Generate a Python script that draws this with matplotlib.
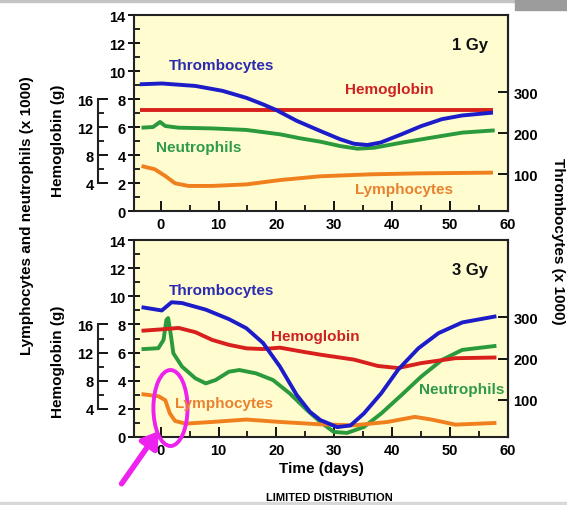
import matplotlib.pyplot as plt
from matplotlib.patches import Ellipse, Rectangle, FancyArrowPatch

plt.rcParams['font.family'] = ['Liberation Sans', 'DejaVu Sans']
plt.rcParams['font.weight'] = 'bold'

# colours
BLUE = '#1c1cc8'
RED = '#d8201c'
GREEN = '#2b9a3c'
ORANGE = '#f0801e'
BG = '#fffcd0'

# ---- 1 Gy panel ----
thr1_days = [-3.6, 0.2, 6, 10.7, 14.8, 17.7, 20, 23.5, 27.6, 31, 33.4, 35.7, 38, 41.6, 45, 48.6, 52.1, 57.4]
thr1 = [319, 321, 315, 303, 286, 270, 256, 230, 205, 185, 174, 171, 177, 197, 217, 234, 243, 250]

hb1_days = [-3.6, 27, 57.4]
hb1 = [14.5, 14.5, 14.5]

neu1_days = [-3.3, -1.3, -0.1, 0.8, 3.1, 8.9, 14.8, 20.6, 24, 27.6, 31, 34, 36.9, 41.6, 46.8, 52.1, 57.7]
neu1 = [5.95, 6.0, 6.36, 6.07, 5.95, 5.9, 5.79, 5.48, 5.2, 4.95, 4.64, 4.45, 4.52, 4.88, 5.24, 5.6, 5.76]

lym1_days = [-3.3, -1, 0.8, 2.5, 4.8, 8.9, 14.8, 20.6, 27.6, 36.3, 45, 57.4]
lym1 = [3.21, 2.98, 2.5, 1.98, 1.79, 1.79, 1.9, 2.21, 2.48, 2.62, 2.69, 2.74]

# ---- 3 Gy panel ----
thr3_days = [-3.3, 0.2, 1.9, 3.7, 7.8, 11.8, 14.8, 17.7, 20.6, 23.5, 25.8, 27.6, 30.5, 32.8, 35.1,
             38.1, 41, 44.5, 48, 52.1, 58]
thr3 = [325, 317, 337, 335, 319, 296, 274, 238, 181, 112, 71, 51, 34, 38, 67,
        116, 173, 225, 262, 288, 303]

hb3_days = [-3.3, 0.2, 3.1, 6, 8.9, 11.8, 14.8, 17.7, 20.6, 24.7, 27.6, 33.4, 37.5, 41, 45, 50.9, 58]
hb3 = [15.1, 15.3, 15.5, 14.9, 13.8, 13.1, 12.6, 12.5, 12.7, 12.1, 11.7, 11.0, 10.1, 9.8, 10.5, 11.2, 11.3]

neu3_days = [-3.3, -0.4, 0.5, 1.0, 1.3, 1.8, 2.2, 3.7, 6, 7.8, 9.5, 11.8, 13.6, 16.5, 19.4, 22.3, 25.3,
             27.6, 29.9, 32.2, 35.1, 38.1, 41.6, 45, 48.6, 52.1, 58]
neu3 = [6.24, 6.31, 6.9, 8.33, 8.45, 7.14, 5.95, 5.0, 4.17, 3.81, 4.05, 4.64, 4.76, 4.52, 4.05, 3.1, 1.9,
        1.07, 0.36, 0.29, 0.71, 1.67, 2.98, 4.29, 5.48, 6.19, 6.48]

lym3_days = [-3.3, -0.4, 0.8, 1.6, 2.5, 4.3, 8.9, 14.8, 20.6, 27.6, 33.4, 39.2, 43.9, 46.8, 50.9, 58]
lym3 = [3.05, 2.9, 2.62, 1.67, 1.14, 0.95, 1.07, 1.24, 1.07, 0.9, 0.83, 1.07, 1.43, 1.24, 0.88, 1.0]

x_ticks = [0, 10, 20, 30, 40, 50, 60]
left_ticks = [0, 2, 4, 6, 8, 10, 12, 14]
hb_ticks = [4, 8, 12, 16]
thr_ticks = [100, 200, 300]

FS = 10.5
LW = 2.8
SPINE = '#222222'


def make_panel(rect, thr_d, thr, hb_d, hb, neu_d, neu, lym_d, lym, title, labels):
    ax = fig.add_axes(rect)
    ax.set_facecolor(BG)
    ax.set_xlim(-4.6, 60)
    ax.set_ylim(0, 14)
    ax.set_xticks(x_ticks)
    ax.set_xticks(range(5, 60, 10), minor=True)
    ax.set_yticks(left_ticks)
    ax.set_yticks(range(1, 14, 2), minor=True)
    ax.tick_params(axis='x', which='major', direction='in', length=7, width=1.3, labelsize=FS, pad=4)
    ax.tick_params(axis='x', which='minor', direction='in', length=4, width=1.2)
    ax.tick_params(axis='y', which='major', direction='inout', length=8, width=1.3, labelsize=FS, pad=2)
    ax.tick_params(axis='y', which='minor', direction='in', length=4, width=1.2)
    for s in ax.spines.values():
        s.set_linewidth(1.5)
        s.set_color(SPINE)

    # hemoglobin scale, offset to the left
    ax_hb = ax.twinx()
    ax_hb.set_ylim(0, 28)
    ax_hb.patch.set_visible(False)
    for k in ['right', 'top', 'bottom']:
        ax_hb.spines[k].set_visible(False)
    ax_hb.spines['left'].set_visible(True)
    ax_hb.spines['left'].set_position(('outward', 26))
    ax_hb.spines['left'].set_bounds(4, 16)
    ax_hb.spines['left'].set_linewidth(1.5)
    ax_hb.spines['left'].set_color(SPINE)
    ax_hb.yaxis.set_ticks_position('left')
    ax_hb.set_yticks(hb_ticks)
    ax_hb.set_yticks([6, 10, 14], minor=True)
    ax_hb.tick_params(axis='y', which='major', direction='in', length=7, width=1.3, labelsize=FS, pad=3)
    ax_hb.tick_params(axis='y', which='minor', direction='in', length=4, width=1.2)

    # thrombocytes on the right
    ax_thr = ax.twinx()
    ax_thr.set_ylim(10, 488)
    ax_thr.set_yticks(thr_ticks)
    ax_thr.tick_params(axis='y', direction='in', length=7, width=1.3, labelsize=FS, pad=4)
    ax_thr.spines['right'].set_linewidth(1.5)
    ax_thr.spines['right'].set_color(SPINE)
    for k in ['left', 'top', 'bottom']:
        ax_thr.spines[k].set_visible(False)

    ax_hb.plot(hb_d, hb, color=RED, lw=LW, solid_capstyle='butt')
    ax.plot(neu_d, neu, color=GREEN, lw=LW, solid_capstyle='butt')
    ax.plot(lym_d, lym, color=ORANGE, lw=LW, solid_capstyle='butt')
    ax_thr.plot(thr_d, thr, color=BLUE, lw=LW, solid_capstyle='butt')

    ax.text(0.947, 0.85, title, transform=ax.transAxes, ha='right', va='center',
            fontsize=12, fontweight='bold', color='#111111')
    for txt, x, y, c in labels:
        ax_thr.text(x, y, txt, transform=ax.transData, ha='center', va='center',
                    fontsize=11, fontweight='bold', color=c)
    return ax


fig = plt.figure(figsize=(5.67, 5.06), dpi=100)

# grey bits of the original screenshot
fig.patches.append(Rectangle((0, 1 - 3 / 506), 1, 3 / 506, transform=fig.transFigure,
                             color='#c4c4c4', zorder=0))
fig.patches.append(Rectangle((515 / 567, 1 - 11 / 506), 52 / 567, 11 / 506, transform=fig.transFigure,
                             color='#9c9c9c', zorder=0))
fig.patches.append(Rectangle((0, 0), 1, 3 / 506, transform=fig.transFigure,
                             color='#d8d8d8', zorder=0))

top_labels = [('Thrombocytes', 10.5, 10.4, '#2b2bb0'),
              ('Hemoglobin', 39.5, 8.7, '#cc2222'),
              ('Neutrophils', 6.6, 4.6, '#2f9a48'),
              ('Lymphocytes', 42, 1.6, '#e8822e')]
bot_labels = [('Thrombocytes', 10.5, 10.45, '#2b2bb0'),
              ('Hemoglobin', 26.7, 7.2, '#cc2222'),
              ('Neutrophils', 52, 3.4, '#2f9a48'),
              ('Lymphocytes', 11, 2.4, '#e8822e')]

ax1 = make_panel([134 / 567, 1 - 212 / 506, 374 / 567, 196 / 506],
                 thr1_days, thr1, hb1_days, hb1, neu1_days, neu1, lym1_days, lym1, '1 Gy', top_labels)
ax2 = make_panel([134 / 567, 1 - 438 / 506, 374 / 567, 197 / 506],
                 thr3_days, thr3, hb3_days, hb3, neu3_days, neu3, lym3_days, lym3, '3 Gy', bot_labels)

ax2.set_xlabel('Time (days)', fontsize=11, fontweight='bold', labelpad=3)

fig.text(27 / 567, 1 - 216 / 506, 'Lymphocytes and neutrophils (x 1000)', rotation=90,
         ha='center', va='center', fontsize=11, fontweight='bold')
fig.text(58 / 567, 1 - 141 / 506, 'Hemoglobin (g)', rotation=90,
         ha='center', va='center', fontsize=11, fontweight='bold')
fig.text(58 / 567, 1 - 362 / 506, 'Hemoglobin (g)', rotation=90,
         ha='center', va='center', fontsize=11, fontweight='bold')
fig.text(558 / 567, 1 - 241 / 506, 'Thrombocytes (x 1000)', rotation=270,
         ha='center', va='center', fontsize=11, fontweight='bold')
fig.text(329 / 567, 1 - 498 / 506, 'LIMITED DISTRIBUTION', ha='center', va='center',
         fontsize=8, fontweight='bold')

# magenta highlight around the lymphocyte drop
ax2.add_patch(Ellipse((1.7, 2.06), 5.9, 5.4, fill=False, edgecolor='#ee22ee', lw=2.8,
                      clip_on=False, zorder=10))
fig.patches.append(FancyArrowPatch(
    (120 / 567, 1 - 487 / 506), (160 / 567, 1 - 430 / 506), transform=fig.transFigure,
    arrowstyle='-|>,head_length=9,head_width=6', color='#ee22ee', lw=4, zorder=10))

fig.savefig('out.png', dpi=100)
